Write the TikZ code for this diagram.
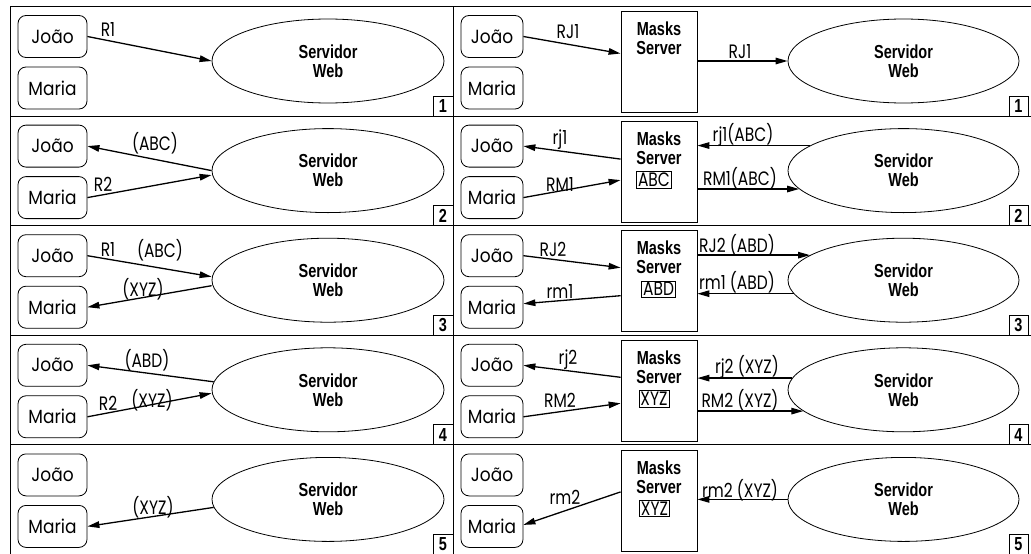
\documentclass[tikz,border=0pt]{standalone}
\usepackage{graphicx}
\usepackage{fontspec}
\setmainfont{Poppins}
\newfontfamily\boldfam{Liberation Sans}
\usetikzlibrary{arrows.meta,shapes.geometric}
\newcommand\regf{\fontsize{15.5}{18}\selectfont}
\newcommand\namef{\fontsize{17}{20}\selectfont}
\newcommand\bldf{\boldfam\bfseries\fontsize{14.5}{19}\selectfont}
\newcommand\vs[1]{\scalebox{1}[1.25]{#1}}
\newcommand\vn[1]{\scalebox{1}[1.12]{#1}}
\newcommand\vb[1]{\scalebox{1}[1.3]{#1}}
\tikzset{
  frame/.style={line width=0.9pt},
  person/.style={draw, rounded corners=8pt, line width=0.8pt, inner sep=0pt, font=\namef, minimum height=42pt},
  pl/.style={person, minimum width=69pt},
  pr/.style={person, minimum width=62pt},
  server/.style={draw, ellipse, line width=0.8pt, inner sep=0pt, minimum width=232pt, minimum height=84pt, align=center, font=\bldf},
  masks/.style={draw, line width=0.8pt, minimum width=76pt, minimum height=101pt, inner sep=0pt},
  mtext/.style={align=center, font=\bldf, inner sep=0pt},
  key/.style={draw, line width=0.7pt, inner sep=1.5pt, font=\regf},
  num/.style={draw, line width=0.9pt, minimum width=20pt, minimum height=20pt, inner sep=0pt, font=\bldf},
  lbl/.style={inner sep=0pt, font=\regf},
  arr/.style={line width=1.3pt, -{Triangle[length=12pt,width=6.5pt]}},
}
\begin{document}
\begin{tikzpicture}[x=1pt,y=-1pt]
\useasboundingbox (0,0) rectangle (1031,554);
% frame
\foreach \k in {0,...,5} \draw[frame] (10,6.5+109.6*\k) -- (1031,6.5+109.6*\k);
\draw[frame] (10,6.5) -- (10,554.5);
\draw[frame] (453,6.5) -- (453,554.5);

% ---------- row 1
\begin{scope}[shift={(0,-0.5)}]
\node[pl] (jA1) at (52.5,37) {\vn{João}};
\node[pl] (mA1) at (52.5,88.5) {\vn{Maria}};
\node[server] (wA1) at (328,61.5) {\vb{Servidor}\\\vb{Web}};
\node[num] (nA1) at (443,106.6) {\vb{1}};
\draw[arr] (jA1.east) -- (wA1.west);
\node[lbl] (lA1a) at (108,30) {\vs{R1}};
\node[pr] (jB1) at (492,37) {\vn{João}};
\node[pr] (mB1) at (492,88.5) {\vn{Maria}};
\node[masks] (kB1) at (659,62.5) {};
\node[mtext] (tB1) at (659,39) {\vb{Masks}\\\vb{Server}};
\node[server, minimum width=231pt] (wB1) at (903.5,61.5) {\vb{Servidor}\\\vb{Web}};
\node[num, minimum width=19pt] (nB1) at (1018.5,106.6) {\vb{1}};
\draw[arr] (jB1.east) -- ([yshift=8.5pt]kB1.west);
\draw[arr] (kB1.east |- wB1.west) -- (wB1.west);
\node[lbl] (lB1a) at (568,32) {\vs{RJ1}};
\node[lbl] (lB1b) at (740,52) {\vs{RJ1}};
\end{scope}

% ---------- row 2
\begin{scope}[shift={(0,109.1)}]
\node[pl] (jA2) at (52.5,37) {\vn{João}};
\node[pl] (mA2) at (52.5,88.5) {\vn{Maria}};
\node[server] (wA2) at (328,61.5) {\vb{Servidor}\\\vb{Web}};
\node[num] (nA2) at (443,106.6) {\vb{2}};
\draw[arr] (wA2.west) -- (jA2.east);
\draw[arr] (mA2.east) -- ([yshift=-4.5pt]wA2.west);
\node[lbl] (lA2a) at (155,34) {\vs{(ABC)}};
\node[lbl] (lA2b) at (103,75) {\vs{R2}};
\node[pr] (jB2) at (492,37) {\vn{João}};
\node[pr] (mB2) at (492,88.5) {\vn{Maria}};
\node[masks] (kB2) at (659,62.5) {};
\node[mtext] (tB2) at (659,39) {\vb{Masks}\\\vb{Server}};
\node[key] (cB2) at (654,70.5) {\vs{ABC}};
\node[server, minimum width=231pt] (wB2) at (903.5,61.5) {\vb{Servidor}\\\vb{Web}};
\node[num, minimum width=19pt] (nB2) at (1018.5,106.6) {\vb{2}};
\draw[arr] ([yshift=12.5pt]kB2.west) -- (jB2.east);
\draw[arr] (mB2.east) -- ([yshift=-8.5pt]kB2.west);
\draw[arr] (wB2.165) -- (wB2.165 -| kB2.east);
\draw[arr] (kB2.east |- wB2.190) -- (wB2.190);
\node[lbl] (lB2a) at (560,31) {\vs{rj1}};
\node[lbl] (lB2b) at (560,75) {\vs{RM1}};
\node[lbl] (lB2c) at (743,26) {\vs{rj1(ABC)}};
\node[lbl] (lB2d) at (740,69) {\vs{RM1(ABC)}};
\end{scope}

% ---------- row 3
\begin{scope}[shift={(0,218.7)}]
\node[pl] (jA3) at (52.5,37) {\vn{João}};
\node[pl] (mA3) at (52.5,88.5) {\vn{Maria}};
\node[server] (wA3) at (328,61.5) {\vb{Servidor}\\\vb{Web}};
\node[num] (nA3) at (443,106.6) {\vb{3}};
\draw[arr] (jA3.east) -- ([yshift=3.5pt]wA3.west);
\draw[arr] ([yshift=-5.5pt]wA3.west) -- (mA3.east);
\node[lbl] (lA3a) at (108,31) {\vs{R1}};
\node[lbl] (lA3b) at (160,32) {\vs{(ABC)}};
\node[lbl] (lA3c) at (143,71) {\vs{(XYZ)}};
\node[pr] (jB3) at (492,37) {\vn{João}};
\node[pr] (mB3) at (492,88.5) {\vn{Maria}};
\node[masks] (kB3) at (659,62.5) {};
\node[mtext] (tB3) at (659,39) {\vb{Masks}\\\vb{Server}};
\node[key] (cB3) at (658.5,70.5) {\vs{ABD}};
\node[server, minimum width=231pt] (wB3) at (903.5,61.5) {\vb{Servidor}\\\vb{Web}};
\node[num, minimum width=19pt] (nB3) at (1018.5,106.6) {\vb{3}};
\draw[arr] (jB3.east) -- ([yshift=13.5pt]kB3.west);
\draw[arr] ([yshift=-14.5pt]kB3.west) -- ([yshift=3.5pt]mB3.east);
\draw[arr] (kB3.east |- wB3.165) -- (wB3.165);
\draw[arr] (wB3.187) -- (wB3.187 -| kB3.east);
\node[lbl] (lB3a) at (553,31) {\vs{RJ2}};
\node[lbl] (lB3b) at (560,73) {\vs{rm1}};
\node[lbl] (lB3c) at (737,27) {\vs{RJ2 (ABD)}};
\node[lbl] (lB3d) at (737,64) {\vs{rm1 (ABD)}};
\end{scope}

% ---------- row 4
\begin{scope}[shift={(0,328.3)}]
\node[pl] (jA4) at (52.5,37) {\vn{João}};
\node[pl] (mA4) at (52.5,88.5) {\vn{Maria}};
\node[server] (wA4) at (328,61.5) {\vb{Servidor}\\\vb{Web}};
\node[num] (nA4) at (443,106.6) {\vb{4}};
\draw[arr] (wA4.176) -- (jA4.east);
\draw[arr] (mA4.east) -- ([yshift=-3.5pt]wA4.west);
\node[lbl] (lA4a) at (147,32) {\vs{(ABD)}};
\node[lbl] (lA4b) at (108,75) {\vs{R2}};
\node[lbl] (lA4c) at (152,72) {\vs{(XYZ)}};
\node[pr] (jB4) at (492,37) {\vn{João}};
\node[pr] (mB4) at (492,88.5) {\vn{Maria}};
\node[masks] (kB4) at (659,62.5) {};
\node[mtext] (tB4) at (659,39) {\vb{Masks}\\\vb{Server}};
\node[key] (cB4) at (654,70.5) {\vs{XYZ}};
\node[server, minimum width=231pt] (wB4) at (903.5,61.5) {\vb{Servidor}\\\vb{Web}};
\node[num, minimum width=19pt] (nB4) at (1018.5,106.6) {\vb{4}};
\draw[arr] ([yshift=13.5pt]kB4.west) -- (jB4.east);
\draw[arr] (mB4.east) -- ([yshift=-12.5pt]kB4.west);
\draw[arr] (wB4.174) -- (wB4.174 -| kB4.east);
\draw[arr] (kB4.east |- wB4.192) -- (wB4.192);
\node[lbl] (lB4a) at (568,31) {\vs{rj2}};
\node[lbl] (lB4b) at (560,72) {\vs{RM2}};
\node[lbl] (lB4c) at (747,39) {\vs{rj2 (XYZ)}};
\node[lbl] (lB4d) at (740,72) {\vs{RM2 (XYZ)}};
\end{scope}

% ---------- row 5
\begin{scope}[shift={(0,437.9)}]
\node[pl] (jA5) at (52.5,37) {\vn{João}};
\node[pl] (mA5) at (52.5,88.5) {\vn{Maria}};
\node[server] (wA5) at (328,61.5) {\vb{Servidor}\\\vb{Web}};
\node[num] (nA5) at (443,106.6) {\vb{5}};
\draw[arr] (wA5.184) -- (mA5.east);
\node[lbl] (lA5a) at (153,69) {\vs{(XYZ)}};
\node[pr] (jB5) at (492,37) {\vn{João}};
\node[pr] (mB5) at (492,88.5) {\vn{Maria}};
\node[masks] (kB5) at (659,62.5) {};
\node[mtext] (tB5) at (659,39) {\vb{Masks}\\\vb{Server}};
\node[key] (cB5) at (654.5,70.5) {\vs{XYZ}};
\node[server, minimum width=231pt] (wB5) at (903.5,61.5) {\vb{Servidor}\\\vb{Web}};
\node[num, minimum width=19pt] (nB5) at (1018.5,106.6) {\vb{5}};
\draw[arr] ([yshift=8.5pt]kB5.west) -- ([yshift=1.5pt]mB5.east);
\draw[arr] (wB5.west) -- (wB5.west -| kB5.east);
\node[lbl] (lB5a) at (565,59) {\vs{rm2}};
\node[lbl] (lB5b) at (740,52) {\vs{rm2 (XYZ)}};
\end{scope}
\end{tikzpicture}
\end{document}
